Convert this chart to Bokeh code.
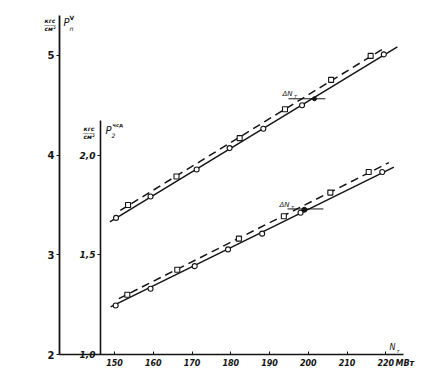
from bokeh.plotting import figure
from bokeh.models import Range1d, Label, FixedTicker, LinearAxis
from bokeh.embed import file_html
from bokeh.resources import INLINE

# ---------------- data ----------------
x_ticks = [150, 160, 170, 180, 190, 200, 210, 220]
outer_ticks = [2, 3, 4, 5]
inner_ticks = [1.0, 1.5, 2.0]
inner_tick_labels = ["1,0", "1,5", "2,0"]

# upper group, P_п^V (outer axis)
up_solid_n = [150.4, 159.3, 171.2, 179.7, 188.4, 198.4, 219.5]
up_solid_p = [3.37, 3.585, 3.855, 4.07, 4.265, 4.50, 5.01]
up_dash_n = [153.5, 166.0, 182.3, 194.0, 205.9, 216.1]
up_dash_p = [3.50, 3.785, 4.17, 4.46, 4.755, 4.995]
up_solid_line_n = [148.8, 223.0]
up_solid_line_p = [3.33, 5.085]
up_dash_line_n = [151.5, 219.7]
up_dash_line_p = [3.445, 5.075]
up_dn_n = [194.9, 204.4]
up_dn_p = [4.565, 4.565]
up_dot_n = [201.6]
up_dot_p = [4.565]

# lower group, P_2^чсд (inner axis)
lo_solid_n = [150.3, 159.3, 170.7, 179.3, 188.1, 198.0, 219.1]
lo_solid_p = [1.246, 1.330, 1.443, 1.527, 1.606, 1.711, 1.915]
lo_dash_n = [153.3, 166.2, 182.1, 193.7, 205.7, 215.6]
lo_dash_p = [1.300, 1.425, 1.581, 1.693, 1.812, 1.915]
lo_solid_line_n = [149.0, 222.1]
lo_solid_line_p = [1.239, 1.940]
lo_dash_line_n = [151.1, 220.8]
lo_dash_line_p = [1.280, 1.962]
lo_dn_n = [194.65, 203.9]
lo_dn_p = [1.730, 1.730]
lo_dot_n = [199.0]
lo_dot_p = [1.726]

# ---------------- layout / styling ----------------
INK = "#141414"
FONT = "DejaVu Sans"
W, H = 440, 370
PX_PER_MW = 3.875      # horizontal scale
X150_PX = 114          # pixel of N = 150
PX_PER_UNIT = 99.7     # vertical scale of the outer axis
Y2_PX = 354            # pixel of P = 2

x_lo = 150 - X150_PX / PX_PER_MW
x_hi = 150 + (W - X150_PX) / PX_PER_MW
y_lo = 2 - (H - Y2_PX) / PX_PER_UNIT
y_hi = 2 + Y2_PX / PX_PER_UNIT

OUTER_AXIS_X = 150 - (X150_PX - 59) / PX_PER_MW
INNER_AXIS_X = 150 - (X150_PX - 100) / PX_PER_MW
X_AXIS_END = 150 + (403 - X150_PX) / PX_PER_MW
OUTER_TOP = 2 + (Y2_PX - 15) / PX_PER_UNIT
INNER_TOP = (2 + (Y2_PX - 120) / PX_PER_UNIT) / 2

p = figure(width=W, height=H, output_backend="svg", toolbar_location=None,
           x_range=Range1d(x_lo, x_hi), y_range=Range1d(y_lo, y_hi),
           min_border=0, min_border_left=0, min_border_right=0,
           min_border_top=0, min_border_bottom=0, outline_line_color=None,
           background_fill_color="white", border_fill_color="white")
p.extra_y_ranges = {"inner": Range1d(y_lo / 2, y_hi / 2)}
p.grid.visible = False

xa = p.xaxis[0]
xa.fixed_location = 2.0
xa.bounds = (OUTER_AXIS_X, X_AXIS_END)
xa.ticker = FixedTicker(ticks=x_ticks)
xa.minor_tick_line_color = None
xa.major_tick_in = 3
xa.major_tick_out = 0
xa.major_label_standoff = 4
xa.axis_line_width = 1.6
xa.axis_line_color = INK
xa.major_tick_line_color = INK
xa.major_label_text_font = FONT
xa.major_label_text_font_size = "8px"
xa.major_label_text_font_style = "bold italic"
xa.major_label_text_color = INK

ya = p.yaxis[0]
ya.fixed_location = OUTER_AXIS_X
ya.bounds = (2.0, OUTER_TOP)
ya.ticker = FixedTicker(ticks=outer_ticks)
ya.minor_tick_line_color = None
ya.major_tick_in = 0
ya.major_tick_out = 3
ya.major_label_standoff = 2
ya.axis_line_width = 1.8
ya.axis_line_color = INK
ya.major_tick_line_color = INK
ya.major_label_text_font = FONT
ya.major_label_text_font_size = "10px"
ya.major_label_text_font_style = "bold"
ya.major_label_text_color = INK

yi = LinearAxis(y_range_name="inner", fixed_location=INNER_AXIS_X,
                bounds=(1.0, INNER_TOP), ticker=FixedTicker(ticks=inner_ticks),
                major_label_overrides=dict(zip(inner_ticks, inner_tick_labels)),
                minor_tick_line_color=None, major_tick_in=0, major_tick_out=3,
                major_label_standoff=2, axis_line_width=1.6, axis_line_color=INK,
                major_tick_line_color=INK, major_label_text_font=FONT,
                major_label_text_font_size="9px", major_label_text_font_style="bold italic",
                major_label_text_color=INK)
p.add_layout(yi, "left")

# upper group
p.line(up_solid_line_n, up_solid_line_p, line_width=1.5, color=INK)
p.line(up_dash_line_n, up_dash_line_p, line_width=1.5, color=INK, line_dash="8 5")
p.scatter(up_solid_n, up_solid_p, marker="circle", size=5, fill_color="white",
          line_color=INK, line_width=1.1)
p.scatter(up_dash_n, up_dash_p, marker="square", size=5, fill_color="white",
          line_color=INK, line_width=1.1)
p.line(up_dn_n, up_dn_p, line_width=1, color=INK)
p.scatter(up_dot_n, up_dot_p, marker="circle", size=4, fill_color=INK, line_color=INK)

# lower group
p.line(lo_solid_line_n, lo_solid_line_p, line_width=1.5, color=INK, y_range_name="inner")
p.line(lo_dash_line_n, lo_dash_line_p, line_width=1.5, color=INK, line_dash="8 5",
       y_range_name="inner")
p.scatter(lo_solid_n, lo_solid_p, marker="circle", size=5, fill_color="white",
          line_color=INK, line_width=1.1, y_range_name="inner")
p.scatter(lo_dash_n, lo_dash_p, marker="square", size=5, fill_color="white",
          line_color=INK, line_width=1.1, y_range_name="inner")
p.line(lo_dn_n, lo_dn_p, line_width=1, color=INK, y_range_name="inner")
p.scatter(lo_dot_n, lo_dot_p, marker="circle", size=5, fill_color=INK, line_color=INK,
          y_range_name="inner")


def lab(px, py, text, size, style="normal", align="left"):
    """Place a text label at a given pixel position of the chart."""
    p.add_layout(Label(x=150 + (px - X150_PX) / PX_PER_MW,
                       y=2 + (Y2_PX - py) / PX_PER_UNIT, text=text, text_font=FONT,
                       text_font_size=f"{size}px", text_font_style=style,
                       text_align=align, text_baseline="middle", text_color=INK))


# outer axis unit and name
lab(49.5, 19.5, "кгс", 6, "bold italic", "center")
lab(49.5, 23.5, "——", 6, "normal", "center")
lab(49.5, 28, "см²", 6, "bold italic", "center")
lab(63, 22, "P", 10, "italic")
lab(69, 28, "п", 6, "italic")
lab(69, 16.5, "V", 6, "bold")

# inner axis unit and name
lab(88.5, 127.5, "кгс", 6, "bold italic", "center")
lab(88.5, 131.5, "——", 6, "normal", "center")
lab(88.5, 136, "см²", 6, "bold italic", "center")
lab(105, 130, "P", 10, "italic")
lab(111, 135, "2", 6, "italic")
lab(112, 124, "чсд", 5, "bold")

# delta N annotations
lab(282, 93, "ΔN", 7, "italic")
lab(293.5, 95.5, "т", 5, "italic")
lab(279, 204, "ΔN", 7, "italic")
lab(290.5, 206.5, "т", 5, "italic")

# x axis name and unit
lab(389, 347, "N", 8, "italic")
lab(396, 350, "т", 5, "italic")
lab(395, 363, "МВт", 8, "bold italic")

open("out.html", "w").write(file_html(p, INLINE))
